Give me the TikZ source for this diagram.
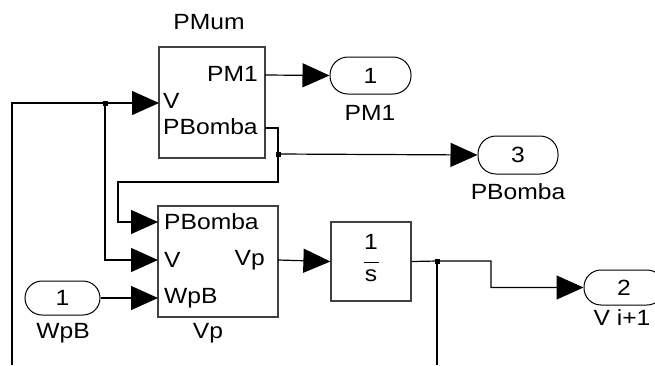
\documentclass[tikz,border=0pt]{standalone}
\usepackage{fontspec}
\usepackage{graphicx}
\setmainfont{Liberation Sans}
\newcommand\tx[1]{\scalebox{1.12}[1]{#1}}
\usetikzlibrary{arrows.meta}
\tikzset{
  blk/.style={draw=black!75, line width=1.2pt, rectangle, inner sep=0pt},
  port/.style={draw=black, line width=1pt, rectangle, inner sep=0pt},
  wire/.style={line width=1.2pt},
  sig/.style={wire, -{Triangle[length=27pt,width=24pt]}},
  jn/.style={fill=black, rectangle, minimum size=5pt, inner sep=0pt},
  lbl/.style={inner sep=0pt, font=\fontsize{22}{24}\selectfont},
}
\begin{document}
\begin{tikzpicture}[x=1pt,y=-1pt]
\useasboundingbox (0,0) rectangle (655,365);
\clip (0,0) rectangle (655,365);
% blocks
\node[blk, minimum width=106pt, minimum height=111pt] (pmum) at (212,102.5) {};
\node[blk, minimum width=120pt, minimum height=111pt] (vp) at (218,261.5) {};
\node[blk, minimum width=80pt, minimum height=79pt] (integ) at (371,261.5) {};
% ports
\node[port, minimum width=81pt, minimum height=37pt, rounded corners=18pt] (out1) at (370.5,75.5) {};
\node[port, minimum width=80pt, minimum height=38pt, rounded corners=18pt] (out3) at (518,155) {};
\node[port, minimum width=80pt, minimum height=35pt, rounded corners=17pt] (out2) at (624,287.5) {};
\node[port, minimum width=75pt, minimum height=34pt, rounded corners=17pt] (in1) at (62.5,298) {};
\node[lbl] (n1) at (370.5,75.5) {\tx{1}};
\node[lbl] (n3) at (518,155) {\tx{3}};
\node[lbl] (n2) at (624,287.5) {\tx{2}};
\node[lbl] (nin) at (62.5,298) {\tx{1}};
% block titles
\node[lbl] (tpmum) at (209,22) {\tx{PMum}};
\node[lbl] (tvp) at (208,333) {\tx{Vp}};
\node[lbl] (tpm1) at (370,113) {\tx{PM1}};
\node[lbl] (tpb) at (518,192) {\tx{PBomba}};
\node[lbl] (tvi) at (622,318) {\tx{V i+1}};
\node[lbl] (twpb) at (63,333) {\tx{WpB}};
% port labels
\node[lbl, anchor=east] (pPM1) at (258,74) {\tx{PM1}};
\node[lbl, anchor=west] (pV) at (163,101) {\tx{V}};
\node[lbl, anchor=west] (pPB) at (163,127) {\tx{PBomba}};
\node[lbl, anchor=west] (qPB) at (164,222) {\tx{PBomba}};
\node[lbl, anchor=west] (qV) at (164,260) {\tx{V}};
\node[lbl, anchor=east] (qVp) at (265,260) {\tx{Vp}};
\node[lbl, anchor=west] (qW) at (164,298) {\tx{WpB}};
\node[lbl] (f1) at (371,242) {\tx{1}};
\node[lbl] (fs) at (371,276) {\tx{s}};
\draw[line width=1pt] (364,262) -- (379,262);
% junctions
\coordinate (j1) at (105,103);
\coordinate (j2) at (278,154);
\coordinate (j3) at (437,261);
\coordinate (lb) at (12,365);
\coordinate (jb) at (437,365);
% wires
\draw[sig] (lb) -- (12,103) -- (j1) -- (159,103);
\draw[sig] (j1) -- (105,260) -- (158,260);
\draw[sig] (265,75) -- (out1.west);
\draw[wire] (265,128) -- (278,128) -- (j2);
\draw[sig] (j2) -- (out3.west);
\draw[sig] (j2) -- (278,182) -- (118,182) -- (118,222) -- (158,222);
\draw[sig] (in1.east) -- (158,298);
\draw[sig] (278,260) -- (integ.west);
\draw[sig] (integ.east) -- (j3) -- (491,261) -- (491,287.5) -- (out2.west);
\draw[wire] (j3) -- (jb);
\node[jn] (jn1) at (j1) {};
\node[jn] (jn2) at (j2) {};
\node[jn] (jn3) at (j3) {};
\end{tikzpicture}
\end{document}
